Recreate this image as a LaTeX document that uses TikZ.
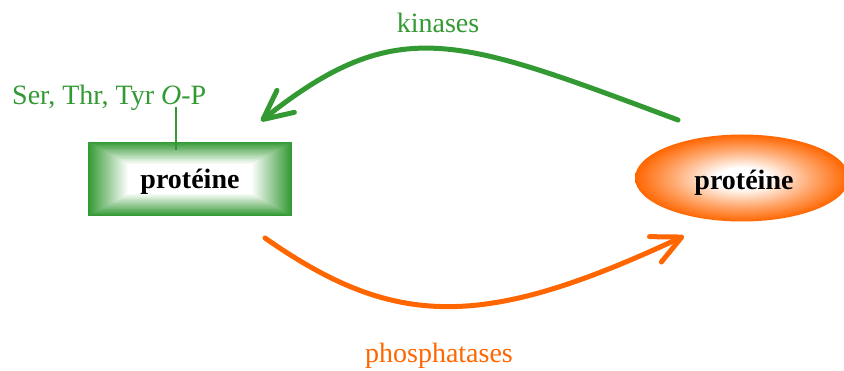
\documentclass[tikz,border=0pt]{standalone}
\usepackage{fontspec}
\setmainfont{Liberation Serif}
\usetikzlibrary{arrows.meta,shapes.geometric}
\definecolor{kingreen}{RGB}{51,153,51}
\definecolor{phosorange}{RGB}{255,102,0}
\pgfdeclareradialshading{orangeglow}{\pgfpoint{0bp}{0bp}}{color(0bp)=(white); color(6bp)=(white); color(16bp)=(phosorange!55!white); color(25bp)=(phosorange); color(50bp)=(phosorange)}
\begin{document}
\begin{tikzpicture}[x=1pt,y=-1pt,line join=round,line cap=round,
    txt/.style={font=\fontsize{28}{34}\selectfont,inner sep=0pt,anchor=base},
    boldtxt/.style={txt,font=\fontsize{28}{34}\selectfont\bfseries},
    bigarrow/.style={line width=5pt,-{Straight Barb[length=29pt,width=28pt,round]}}]
	\useasboundingbox (0,0) rectangle (844,371);
	% green box: nested rectangles fading to white
	\foreach \d in {0,...,40}{
		\pgfmathsetmacro\p{100*(1-\d/40)}
		\fill[kingreen!\p!white] (88+\d,142+\d/1.8) rectangle (292-\d,216-\d/1.8);
	}
	\node[inner sep=0pt,minimum width=204pt,minimum height=74pt] (protBox) at (190,179) {};
	\node[boldtxt] (protL) at (190,189) {protéine};
	% orange ellipse
	\node[ellipse,shade,shading=orangeglow,inner sep=0pt,minimum width=214pt,minimum height=87pt] (protEll) at (742,178) {};
	\node[boldtxt] (protR) at (744,190) {protéine};
	% site label
	\node[txt,text=kingreen,anchor=base west] (site) at (12,105) {Ser, Thr, Tyr \textit{O}-P};
	\coordinate (siteTop) at (176,107);
	\coordinate (siteBot) at (176,150);
	\draw[kingreen,line width=1.3pt,line cap=butt] (siteTop)--(siteBot);
	% arrows
	\coordinate (kinStart) at (678,120);
	\coordinate (kinEnd) at (261,121);
	\coordinate (phosStart) at (265,238);
	\coordinate (phosEnd) at (684,236);
	\draw[bigarrow,kingreen] (kinStart) .. controls (458,38) and (398,12) .. (kinEnd);
	\draw[bigarrow,phosorange] (phosStart) .. controls (395,329) and (483,330) .. (phosEnd);
	\node[txt,text=kingreen] (kin) at (438,33) {kinases};
	\node[txt,text=phosorange] (phos) at (439,363) {phosphatases};
\end{tikzpicture}
\end{document}
